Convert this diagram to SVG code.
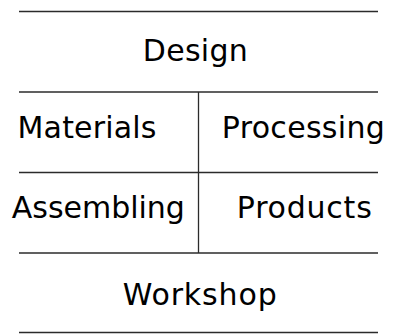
<svg xmlns="http://www.w3.org/2000/svg" width="393" height="334" viewBox="0 0 393 334">
<style>
.l{stroke:#2b2b2b;stroke-width:1.3;fill:none}
.t{font-family:"DejaVu Sans",sans-serif;font-size:30px;fill:#000;text-anchor:middle}
</style>
<rect width="393" height="334" fill="#fff"/>
<g id="connectors">
<line class="l" x1="19" y1="11.5" x2="378" y2="11.5"/>
<line class="l" x1="19" y1="92" x2="378" y2="92"/>
<line class="l" x1="19" y1="172.5" x2="378" y2="172.5"/>
<line class="l" x1="19" y1="253" x2="378" y2="253"/>
<line class="l" x1="19" y1="332.5" x2="378" y2="332.5"/>
<line class="l" x1="198.5" y1="92" x2="198.5" y2="253"/>
</g>
<g id="design"><text class="t" x="195.3" y="60.7" textLength="105" lengthAdjust="spacing">Design</text></g>
<g id="materials"><text class="t" x="87" y="138.3" textLength="139" lengthAdjust="spacing">Materials</text></g>
<g id="processing"><text class="t" x="303.3" y="138.3" textLength="163" lengthAdjust="spacing">Processing</text></g>
<g id="assembling"><text class="t" x="98.3" y="218.3" textLength="173" lengthAdjust="spacing">Assembling</text></g>
<g id="products"><text class="t" x="304.3" y="218.3" textLength="135" lengthAdjust="spacing">Products</text></g>
<g id="workshop"><text class="t" x="199.7" y="305" textLength="154" lengthAdjust="spacing">Workshop</text></g>
</svg>
